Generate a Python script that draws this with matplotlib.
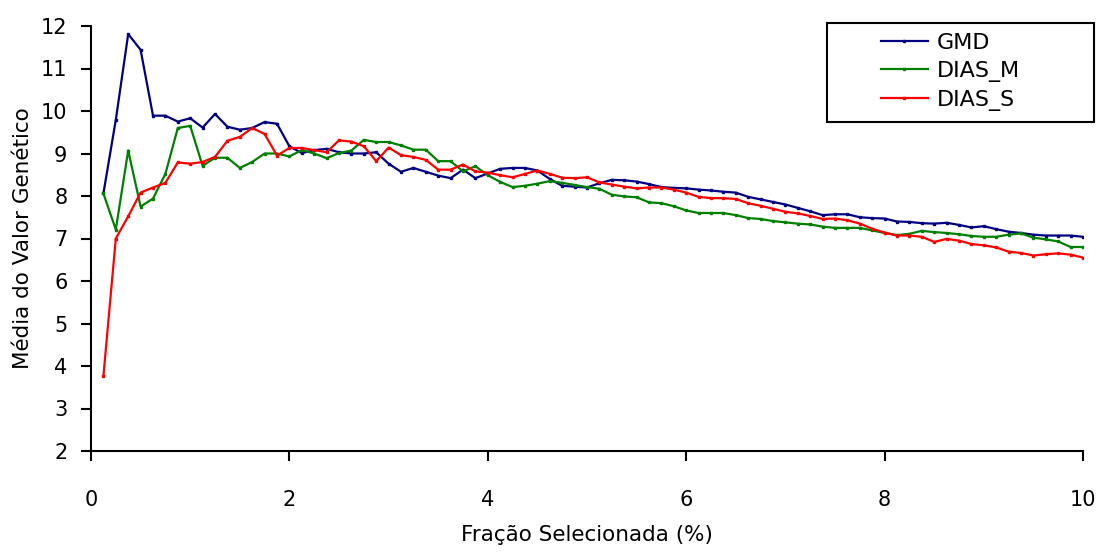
import numpy as np
import matplotlib
matplotlib.use("Agg")
import matplotlib.pyplot as plt
from matplotlib.patches import Rectangle

# fraction selected (%), one point every 0.125
fracao = np.arange(1, 81) * 0.125

gmd = [8.06, 9.79, 11.81, 11.44, 9.89, 9.89, 9.75, 9.83, 9.61, 9.93,
       9.63, 9.56, 9.60, 9.74, 9.70, 9.17, 9.01, 9.08, 9.11, 9.03,
       9.00, 9.00, 9.03, 8.76, 8.57, 8.66, 8.57, 8.48, 8.42, 8.62,
       8.42, 8.53, 8.64, 8.66, 8.66, 8.60, 8.40, 8.24, 8.22, 8.20,
       8.30, 8.38, 8.37, 8.34, 8.28, 8.21, 8.19, 8.18, 8.15, 8.13,
       8.10, 8.08, 7.98, 7.92, 7.86, 7.80, 7.72, 7.64, 7.55, 7.57,
       7.57, 7.50, 7.48, 7.47, 7.40, 7.39, 7.36, 7.35, 7.37, 7.32,
       7.26, 7.29, 7.22, 7.16, 7.13, 7.09, 7.07, 7.07, 7.07, 7.04]

dias_m = [8.06, 7.21, 9.07, 7.75, 7.94, 8.52, 9.60, 9.65, 8.71, 8.90,
          8.90, 8.66, 8.80, 9.00, 9.00, 8.93, 9.08, 9.00, 8.89, 9.01,
          9.07, 9.32, 9.27, 9.27, 9.19, 9.09, 9.09, 8.82, 8.82, 8.58,
          8.70, 8.49, 8.33, 8.21, 8.24, 8.29, 8.35, 8.31, 8.26, 8.21,
          8.17, 8.03, 7.99, 7.97, 7.85, 7.83, 7.76, 7.66, 7.60, 7.60,
          7.60, 7.55, 7.48, 7.46, 7.41, 7.38, 7.35, 7.33, 7.28, 7.25,
          7.25, 7.25, 7.19, 7.13, 7.08, 7.11, 7.18, 7.15, 7.13, 7.10,
          7.06, 7.04, 7.04, 7.09, 7.12, 7.02, 6.98, 6.93, 6.80, 6.80]

dias_s = [3.76, 7.00, 7.52, 8.08, 8.20, 8.31, 8.79, 8.76, 8.80, 8.92,
          9.30, 9.39, 9.60, 9.46, 8.95, 9.13, 9.13, 9.08, 9.03, 9.31,
          9.28, 9.17, 8.82, 9.14, 8.96, 8.92, 8.85, 8.62, 8.62, 8.74,
          8.58, 8.55, 8.49, 8.44, 8.52, 8.60, 8.52, 8.43, 8.42, 8.44,
          8.32, 8.27, 8.22, 8.18, 8.20, 8.20, 8.15, 8.08, 7.98, 7.95,
          7.95, 7.93, 7.83, 7.77, 7.70, 7.63, 7.59, 7.53, 7.46, 7.47,
          7.43, 7.35, 7.23, 7.14, 7.07, 7.07, 7.04, 6.92, 6.99, 6.95,
          6.87, 6.84, 6.79, 6.69, 6.66, 6.60, 6.63, 6.65, 6.62, 6.55]

series = [("GMD", gmd, "#000080"), ("DIAS_M", dias_m, "#008000"), ("DIAS_S", dias_s, "#FF0000")]

W, H = 1107, 552
fig = plt.figure(figsize=(W / 100, H / 100), dpi=100)
ax = fig.add_axes([91 / W, (H - 451) / H, (1083 - 91) / W, (451 - 26) / H])

for nome, vals, cor in series:
    ax.plot(fracao, vals, color=cor, lw=1.6, marker="s", ms=2, label=nome)

ax.set_xlim(0, 10)
ax.set_ylim(2, 12)
ax.set_xticks([0, 2, 4, 6, 8, 10])
ax.set_yticks(range(2, 13))
ax.spines["top"].set_visible(False)
ax.spines["right"].set_visible(False)
ax.spines["left"].set_linewidth(1.5)
ax.spines["bottom"].set_linewidth(1.5)
ax.tick_params(labelsize=15, width=1.5, length=7)
ax.tick_params(axis="y", pad=10)
ax.tick_params(axis="x", pad=21)

ax.set_xlabel("Fração Selecionada (%)", fontsize=15.5)
ax.xaxis.set_label_coords(0.5, -(535 - 451) / 425)
ax.xaxis.label.set_va("center")
ax.set_ylabel("Média do Valor Genético", fontsize=15.5)
ax.yaxis.set_label_coords(-(91 - 23) / 992, 0.5)
ax.yaxis.label.set_va("center")

# legend box drawn separately so it can be wider than its content
fig.patches.append(Rectangle((827 / W, (H - 122) / H), (1094 - 827) / W, (122 - 23) / H,
                             transform=fig.transFigure, fill=False, ec="black", lw=1.5))
leg = fig.legend(loc="upper left", bbox_to_anchor=(881 / W, (H - 33) / H), fontsize=16,
                 frameon=False, handlelength=2.1, handletextpad=0.4, labelspacing=0.36,
                 borderpad=0, borderaxespad=0)
for h in leg.legend_handles:
    h.set_markersize(2)

fig.savefig("out.png", dpi=100)
